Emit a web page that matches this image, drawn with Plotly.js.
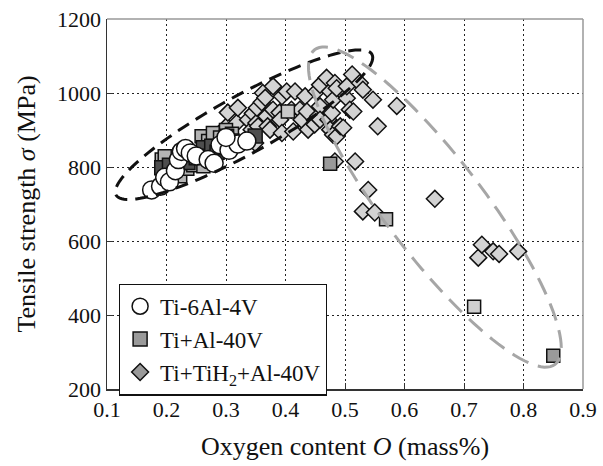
<!DOCTYPE html>
<html>
<head>
<meta charset="utf-8">
<script src="https://cdn.plot.ly/plotly-3.0.1.min.js"></script>
<style>html,body{margin:0;padding:0;background:#fff;}#chart{width:603px;height:466px;}</style>
</head>
<body>
<div id="chart"></div>
<script>
// ---- data ----
var seriesNames = ["Ti-6Al-4V", "Ti+Al-40V", "Ti+TiH<sub>2</sub>+Al-40V"];

var tiAlV_x = [0.175,0.19,0.197,0.205,0.215,0.22,0.225,0.232,0.24,0.25,0.27,0.28,0.29,0.305,0.32,0.335,0.30];
var tiAlV_y = [738,748,772,760,790,820,842,850,838,830,820,810,860,845,862,870,880];

var sqLight_x = [0.192,0.197,0.21,0.223,0.235,0.245,0.259,0.262,0.27,0.278,0.29,0.30,0.31,0.404,0.475,0.569,0.717,0.85];
var sqLight_y = [820,829,790,775,795,805,883,802,870,892,880,900,890,950,809,659,422,290];
var sqLight_c = ["#b4b4b4","#b4b4b4","#b4b4b4","#b4b4b4","#b4b4b4","#b4b4b4","#b4b4b4","#b4b4b4","#b4b4b4","#b4b4b4","#b4b4b4","#b4b4b4","#b4b4b4","#c8c8c8","#9a9a9a","#b8b8b8","#d0d0d0","#9a9a9a"];

var sqDark_x = [0.192,0.205,0.22,0.236,0.25,0.262,0.273,0.276,0.285,0.293,0.301,0.31,0.349];
var sqDark_y = [798,805,812,812,825,852,829,856,840,852,883,870,884];

var dia_x = [0.301,0.303,0.318,0.32,0.337,0.343,0.345,0.349,0.351,0.352,0.354,0.36,0.362,0.366,0.368,0.37,0.374,0.379,0.379,0.39,0.391,0.394,0.394,0.402,0.41,0.413,0.416,0.424,0.427,0.433,0.436,0.438,0.449,0.452,0.455,0.458,0.458,0.458,0.469,0.472,0.475,0.475,0.478,0.48,0.48,0.483,0.483,0.486,0.486,0.492,0.497,0.503,0.503,0.508,0.512,0.514,0.517,0.525,0.53,0.547,0.555,0.587,0.539,0.53,0.55,0.651,0.724,0.73,0.749,0.759,0.791];
var dia_y = [910,947,919,960,928,901,945,865,919,960,910,975,1000,987,937,910,901,955,1018,947,928,892,991,1004,955,896,1004,955,928,991,950,901,915,1004,937,964,1022,928,1041,928,1004,901,946,982,887,1027,815,1013,883,910,906,986,1018,955,1050,950,815,1027,1009,982,910,965,738,680,677,714,555,590,572,565,572];

var xTicks = [0.1,0.2,0.3,0.4,0.5,0.6,0.7,0.8,0.9];
var xTickText = ["0.1","0.2","0.3","0.4","0.5","0.6","0.7","0.8","0.9"];
var yTicks = [200,400,600,800,1000,1200];
var yTickText = ["200","400","600","800","1000","1200"];

// ---- ellipse annotations (center in data units, semi-axes in px, screen angle) ----
var X0 = 0.1, X1 = 0.9, Y0 = 200, Y1 = 1200;
var M = {l:107, r:20, t:19, b:77};
var W = 603, H = 466;
var pw = W - M.l - M.r, ph = H - M.t - M.b;
var sx = pw / (X1 - X0), sy = ph / (Y1 - Y0);
function ellipsePath(cx, cy, a, b, angDeg) {
  var th = angDeg * Math.PI / 180, n = 120, s = "";
  for (var i = 0; i <= n; i++) {
    var t = 2 * Math.PI * i / n;
    var ex = a * Math.cos(t), ey = b * Math.sin(t);
    var dx = ex * Math.cos(th) - ey * Math.sin(th);
    var dy = ex * Math.sin(th) + ey * Math.cos(th);
    s += (i === 0 ? "M" : "L") + (cx + dx / sx).toFixed(5) + "," + (cy - dy / sy).toFixed(2) + " ";
  }
  return s + "Z";
}

var serif = "Liberation Serif, serif";
var mline = {color: "#111", width: 1.5};

var traces = [
  {x: dia_x, y: dia_y, type: "scatter", mode: "markers", showlegend: false,
   marker: {symbol: "diamond", size: 13, color: "#d3d3d3", line: mline}},
  {x: sqLight_x, y: sqLight_y, type: "scatter", mode: "markers", showlegend: false,
   marker: {symbol: "square", size: 13, color: sqLight_c, line: mline}},
  {x: sqDark_x, y: sqDark_y, type: "scatter", mode: "markers", showlegend: false,
   marker: {symbol: "square", size: 14, color: "#4e4e4e", line: mline}},
  {x: tiAlV_x, y: tiAlV_y, type: "scatter", mode: "markers", showlegend: false,
   marker: {symbol: "circle", size: 18, color: "#ffffff", line: mline}},
  // legend entries
  {x: [null], y: [null], type: "scatter", mode: "markers", name: seriesNames[0],
   marker: {symbol: "circle", size: 17, color: "#ffffff", line: mline}},
  {x: [null], y: [null], type: "scatter", mode: "markers", name: seriesNames[1],
   marker: {symbol: "square", size: 14, color: "#9a9a9a", line: mline}},
  {x: [null], y: [null], type: "scatter", mode: "markers", name: seriesNames[2],
   marker: {symbol: "diamond", size: 13, color: "#9a9a9a", line: mline}}
];

var layout = {
  width: W, height: H,
  margin: M,
  paper_bgcolor: "#fff", plot_bgcolor: "#fff",
  font: {family: serif, size: 22, color: "#111"},
  showlegend: true,
  legend: {x: 0.025, y: 0.285, xanchor: "left", yanchor: "top",
           bgcolor: "#fff", bordercolor: "#111", borderwidth: 1.2,
           font: {family: serif, size: 23, color: "#111"}, tracegroupgap: 0, itemwidth: 30},
  xaxis: {range: [X0, X1], tickvals: xTicks, ticktext: xTickText, ticks: "inside", ticklen: 6,
          tickcolor: "#333", tickwidth: 1, showline: true, linecolor: "#333", linewidth: 1.5,
          showgrid: true, gridcolor: "#222", gridwidth: 1, griddash: "2px,3px", zeroline: false,
          tickfont: {family: serif, size: 22, color: "#111"},
          title: {text: "Oxygen content <i>O</i> (mass%)", font: {family: serif, size: 26, color: "#111"}, standoff: 16}},
  yaxis: {range: [Y0, Y1], tickvals: yTicks, ticktext: yTickText, ticks: "inside", ticklen: 6,
          tickcolor: "#333", tickwidth: 1, showline: true, linecolor: "#333", linewidth: 1.5,
          showgrid: true, gridcolor: "#222", gridwidth: 1, griddash: "2px,3px", zeroline: false,
          tickfont: {family: serif, size: 22, color: "#111"},
          title: {text: "Tensile strength <i>σ</i> (MPa)", font: {family: serif, size: 26, color: "#111"}, standoff: 14}},
  shapes: [
    {type: "line", xref: "paper", yref: "paper", x0: 0, x1: 1, y0: 1, y1: 1, line: {color: "#999", width: 1.5}},
    {type: "line", xref: "paper", yref: "paper", x0: 1, x1: 1, y0: 0, y1: 1, line: {color: "#999", width: 1.5}},
    {type: "path", xref: "x", yref: "y", layer: "above", path: ellipsePath(0.3303, 914.3, 146, 29, -28.8),
     line: {color: "#111", width: 3, dash: "13px,8px"}},
    {type: "path", xref: "x", yref: "y", layer: "above", path: ellipsePath(0.651, 691.6, 198, 49, 52.6),
     line: {color: "#a6a6a6", width: 3, dash: "18px,10px"}}
  ]
};

Plotly.newPlot("chart", traces, layout, {displayModeBar: false, staticPlot: true});
</script>
</body>
</html>
